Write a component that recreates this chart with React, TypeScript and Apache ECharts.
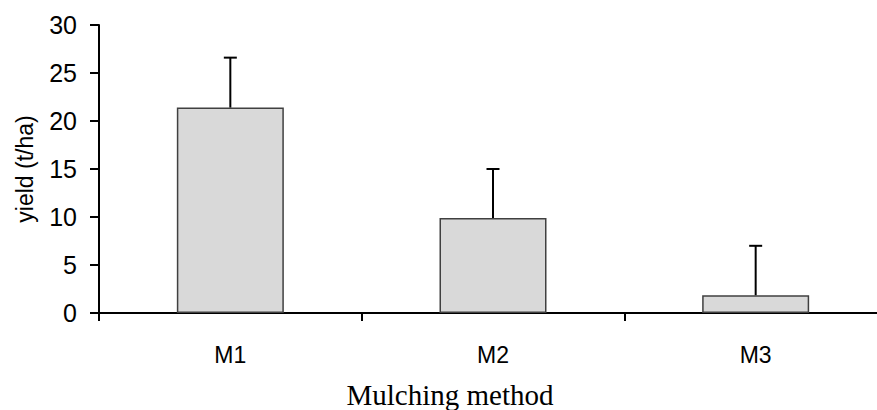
import React, { useEffect, useRef } from "react";
import * as echarts from "echarts";

const categories = ["M1", "M2", "M3"];
const yieldMeans = [21.4, 9.9, 1.85];
const errorTops = [26.6, 15.0, 7.0];
const yTicks = { min: 0, max: 30, interval: 5 };

export default function App() {
  const ref = useRef<HTMLDivElement>(null);
  useEffect(() => {
    if (!ref.current) return;
    const chart = echarts.init(ref.current, null, { renderer: "svg" });
    const sans = "Liberation Sans";
    chart.setOption({
      animation: false,
      backgroundColor: "#ffffff",
      grid: { left: 99, top: 25, height: 288, width: 788, containLabel: false, outerBoundsMode: "none" },
      xAxis: {
        type: "category",
        data: categories,
        axisLine: { lineStyle: { color: "#000", width: 2 } },
        axisTick: { show: true, length: 8, lineStyle: { color: "#000", width: 2 }, alignWithLabel: false },
        axisLabel: { color: "#000", fontFamily: sans, fontSize: 23, margin: 30 },
        splitLine: { show: false },
      },
      yAxis: {
        type: "value",
        min: yTicks.min,
        max: yTicks.max,
        interval: yTicks.interval,
        name: "yield (t/ha)",
        nameLocation: "middle",
        nameGap: 63,
        nameTextStyle: { color: "#000", fontFamily: sans, fontSize: 23 },
        axisLine: { show: true, lineStyle: { color: "#000", width: 2 } },
        axisTick: { show: true, length: 9, lineStyle: { color: "#000", width: 2 } },
        axisLabel: { color: "#000", fontFamily: sans, fontSize: 25, margin: 22 },
        splitLine: { show: false },
      },
      graphic: [
        {
          type: "text",
          x: 450,
          y: 380,
          style: {
            text: "Mulching method",
            font: '29px "Liberation Serif"',
            fill: "#000",
            textAlign: "center",
            textVerticalAlign: "top",
          },
        },
      ],
      series: [
        {
          type: "bar",
          data: yieldMeans,
          barWidth: 107,
          itemStyle: { color: "#d9d9d9", borderColor: "#404040", borderWidth: 1.5 },
          z: 2,
        },
        {
          type: "custom",
          data: categories.map((c, i) => [i, yieldMeans[i], errorTops[i]]),
          z: 3,
          renderItem: (params: any, api: any) => {
            const x = api.value(0);
            const base = api.coord([x, api.value(1)]);
            const top = api.coord([x, api.value(2)]);
            const half = 6.5;
            return {
              type: "group",
              children: [
                {
                  type: "line",
                  shape: { x1: base[0], y1: base[1], x2: top[0], y2: top[1] },
                  style: { stroke: "#000", lineWidth: 2 },
                },
                {
                  type: "line",
                  shape: { x1: top[0] - half, y1: top[1], x2: top[0] + half, y2: top[1] },
                  style: { stroke: "#000", lineWidth: 2 },
                },
              ],
            };
          },
        },
      ],
    });
    return () => chart.dispose();
  }, []);
  return <div ref={ref} style={{ width: 877, height: 410, position: "absolute", left: 0, top: 0 }} />;
}
